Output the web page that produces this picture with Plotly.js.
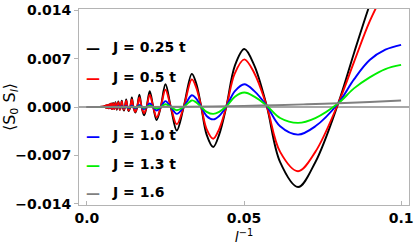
<!DOCTYPE html>
<html>
<head>
<meta charset="utf-8">
<script src="https://cdn.plot.ly/plotly-3.0.1.min.js"></script>
<style>html,body{margin:0;padding:0;background:#fff;}#chart{width:415px;height:249px;}</style>
</head>
<body>
<div id="chart"></div>
<script>
// x positions (inverse distance l^-1) of the nodes
const xNodes = [0.1, 0.095, 0.09, 0.085, 0.08, 0.0727, 0.0672, 0.0615, 0.0572, 0.0533, 0.0501, 0.0471, 0.0444,
  0.0421, 0.0402, 0.0381, 0.0364, 0.0348, 0.0334,
  0.0308, 0.0286, 0.0267, 0.025, 0.0235, 0.0222, 0.0211, 0.02, 0.019, 0.0182, 0.0174, 0.0167,
  0.016, 0.0154, 0.0148, 0.0143, 0.0138, 0.0133, 0.0129, 0.0125, 0.0121, 0.0118, 0.0114, 0.0111,
  0.0108, 0.0105, 0.0103, 0.01, 0.00952, 0.00909, 0.0087, 0.00833, 0.008, 0.00769, 0.00741,
  0.00714, 0.0069, 0.00667, 0.00645, 0.00625, 0.00606, 0.00588, 0.0055, 0.004, 0];

const yJ025 = [0.026, 0.021, 0.0148, 0.0078, 0.00054, -0.0080, -0.0116, -0.0080, 0.0002, 0.0060, 0.0084, 0.0060, 0.0001,
  -0.0040, -0.0058, -0.0040, 0.0, 0.0034, 0.0048,
  0, -0.0034, 0, 0.0033, 0, -0.0019, 0, 0.0023, 0, -0.0012, 0, 0.0018,
  0, -0.0008, 0, 0.0014, 0, -0.0006, 0, 0.0011, 0, -0.0005, 0, 0.0009,
  0, -0.0004, 0, 0.0008, -0.0004, 0.0007, -0.0003, 0.0006, -0.0003, 0.0005, -0.0002,
  0.0004, -0.0002, 0.0003, -0.00015, 0.00025, -0.0001, 0.0002, 0.0001, 0, 0];

const yJ05 = [0.021, 0.017, 0.0124, 0.0065, 0.00054, -0.0065, -0.0093, -0.0065, 0.0002, 0.0049, 0.0069, 0.0049, 0.0001,
  -0.0032, -0.0046, -0.0032, 0, 0.0028, 0.0040,
  0, -0.0025, 0, 0.0025, 0, -0.0015, 0, 0.0018, 0, -0.0009, 0, 0.0014,
  0, -0.0007, 0, 0.0011, 0, -0.0005, 0, 0.0009, 0, -0.0004, 0, 0.0008,
  0, -0.0004, 0, 0.0007, -0.0003, 0.0006, -0.0003, 0.0005, -0.0003, 0.0005, -0.0002,
  0.0004, -0.0002, 0.0003, -0.00015, 0.00025, -0.0001, 0.0002, 0.0001, 0, 0];

const yJ10 = [0.0090, 0.0083, 0.0068, 0.0040, 0.00054, -0.0028, -0.0040, -0.0028, 0.0002, 0.0023, 0.0033, 0.0023, 0.0001,
  -0.0013, -0.0018, -0.0013, 0, 0.0012, 0.0017,
  0, -0.0010, 0, 0.00085, 0, -0.0005, 0, 0.0005, 0, -0.0003, 0, 0.0003,
  0, -0.0002, 0, 0.0002, 0, -0.00015, 0, 0.00015, 0, -0.0001, 0, 0.0001,
  0, -0.0001, 0, 0.0001, -0.00008, 0.00008, -0.00006, 0.00006, -0.00005, 0.00005, -0.00004,
  0.00004, -0.00003, 0.00003, -0.00002, 0.00002, -0.00002, 0.00002, 0.00001, 0, 0];

const yJ13 = [0.0061, 0.0055, 0.0043, 0.0027, 0.00054, -0.0016, -0.0023, -0.0016, 0.0002, 0.0015, 0.0021, 0.0015, 0.0001,
  -0.0007, -0.0010, -0.0007, 0, 0.00067, 0.00095,
  0, -0.00047, 0, 0.0004, 0, -0.0002, 0, 0.0002, 0, -0.0001, 0, 0.0001,
  0, -0.00008, 0, 0.00008, 0, -0.00006, 0, 0.00006, 0, -0.00005, 0, 0.00005,
  0, -0.00004, 0, 0.00004, -0.00003, 0.00003, -0.00003, 0.00003, -0.00002, 0.00002, -0.00002,
  0.00002, -0.00001, 0.00001, -0.00001, 0.00001, -0.00001, 0.00001, 0, 0, 0];

const xJ16 = [0, 0.02, 0.03, 0.04, 0.05, 0.06, 0.07, 0.08, 0.09, 0.1];
const yJ16 = [0, 0.00002, 0.00004, 0.00009, 0.00017, 0.00026, 0.00039, 0.00054, 0.00072, 0.00095];

const seriesNames = ['J = 0.25 t', 'J = 0.5 t', 'J = 1.0 t', 'J = 1.3 t', 'J = 1.6'];
const seriesColors = ['#000000', '#ff0000', '#0000ff', '#00ee00', '#808080'];

const xTickVals = [0, 0.05, 0.1];
const xTickText = ['0.0', '0.05', '0.1'];
const yTickVals = [-0.014, -0.007, 0, 0.007, 0.014];
const yTickText = ['\u22120.014', '\u22120.007', '0.000', '0.007', '0.014'];

const ys = [yJ025, yJ05, yJ10, yJ13];
const traces = ys.map((y, i) => ({
  x: xNodes, y: y, type: 'scatter', mode: 'lines', name: seriesNames[i],
  line: {color: seriesColors[i], width: 1.9, shape: 'spline', smoothing: 1, simplify: false},
  showlegend: false, hoverinfo: 'skip'
}));
traces.push({x: xJ16, y: yJ16, type: 'scatter', mode: 'lines', name: seriesNames[4],
  line: {color: seriesColors[4], width: 1.9, shape: 'spline', smoothing: 1, simplify: false},
  showlegend: false, hoverinfo: 'skip'});

const M = {l: 79, r: 2, t: 6, b: 44};
const PW = 415 - M.l - M.r, PH = 249 - M.t - M.b;
const px2paperX = p => (p - M.l) / PW;
const px2paperY = p => (249 - M.b - p) / PH;
const legendRows = [45, 75, 134, 163, 192];
const ann = [];
seriesNames.forEach((n, i) => {
  ann.push({xref: 'paper', yref: 'paper', x: px2paperX(93.5), y: px2paperY(legendRows[i] + 1), xanchor: 'center', yanchor: 'middle',
    text: '\u2014', showarrow: false, font: {family: 'DejaVu Sans', size: 14, weight: 'bold', color: seriesColors[i]}});
  ann.push({xref: 'paper', yref: 'paper', x: px2paperX(110), y: px2paperY(legendRows[i]), xanchor: 'left', yanchor: 'middle',
    text: n, showarrow: false, font: {family: 'DejaVu Sans', size: 14, weight: 'bold', color: '#000'}});
});

const tickFont = {family: 'DejaVu Sans', size: 14, weight: 'bold', color: '#000'};
const layout = {
  width: 415, height: 249, margin: M, paper_bgcolor: '#fff', plot_bgcolor: '#fff', showlegend: false,
  xaxis: {range: [-0.00252, 0.10252], tickvals: xTickVals, ticktext: xTickText, ticks: 'inside', ticklen: 4,
    tickcolor: '#b4b4b4', showline: true, mirror: true, linecolor: '#b4b4b4', linewidth: 1, showgrid: false,
    zeroline: false, tickfont: tickFont, ticklabeloverflow: 'allow', automargin: true,
    title: {text: '<i>l</i><sup>\u22121</sup>', font: {family: 'DejaVu Sans', size: 14, color: '#000'}, standoff: 7}},
  yaxis: {range: [-0.0142, 0.0142], tickvals: yTickVals, ticktext: yTickText, ticks: 'outside', ticklen: 4,
    tickcolor: '#b4b4b4', showline: true, mirror: true, linecolor: '#b4b4b4', linewidth: 1, showgrid: false,
    zeroline: true, zerolinecolor: '#a8a8a8', zerolinewidth: 2.2, tickfont: tickFont, ticklabeloverflow: 'allow',
    automargin: true,
    title: {text: '\u27E8S<sub>0</sub> S<sub><i>l</i></sub>\u27E9', font: {family: 'DejaVu Sans', size: 16, color: '#000'}, standoff: 0}},
  annotations: ann
};
Plotly.newPlot('chart', traces, layout, {staticPlot: true, displayModeBar: false});
</script>
</body>
</html>
